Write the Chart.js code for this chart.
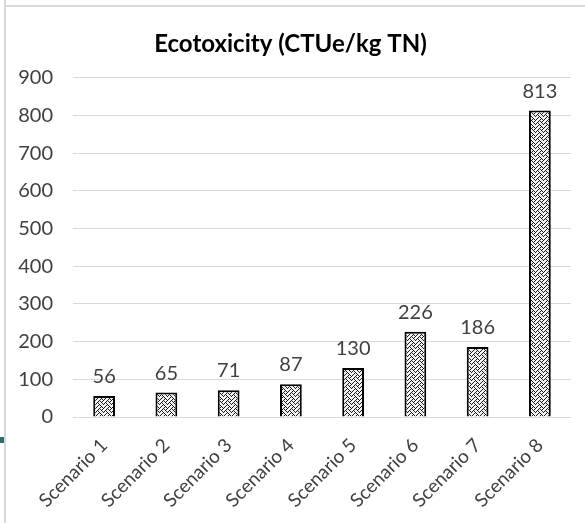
<!DOCTYPE html>
<html>
<head>
<meta charset="utf-8">
<script src="https://cdn.jsdelivr.net/npm/chart.js@4.4.1/dist/chart.umd.min.js"></script>
<style>
  html, body { margin: 0; padding: 0; background: #fff; }
  #wrap { position: relative; width: 585px; height: 523px; overflow: hidden; }
  #chart { position: absolute; left: 0; top: 0; }
  .frame-v { position: absolute; left: 4px; top: 0; width: 2px; height: 523px; background: #d9d9d9; }
  .frame-h { position: absolute; left: 4px; top: 5px; width: 581px; height: 2px; background: #d9d9d9; }
  .tab { position: absolute; left: 0; top: 437px; width: 4px; height: 6px; background: #2f6b6b; }
</style>
</head>
<body>
<div id="wrap">
  <canvas id="chart" width="585" height="523"></canvas>
  <div class="frame-v"></div>
  <div class="frame-h"></div>
  <div class="tab"></div>
</div>
<script>
const categories = ['Scenario 1', 'Scenario 2', 'Scenario 3', 'Scenario 4',
                    'Scenario 5', 'Scenario 6', 'Scenario 7', 'Scenario 8'];
const ecotoxicity = [56, 65, 71, 87, 130, 226, 186, 813];
const yTicks = [0, 100, 200, 300, 400, 500, 600, 700, 800, 900];
const chartTitle = 'Ecotoxicity (CTUe/kg TN)';

const FONT = 'Lato, Calibri, "Liberation Sans", sans-serif';

// 8x8 weave fill for the bars
function weavePattern() {
  const rows = [0x11, 0x2A, 0x44, 0xA2, 0x11, 0x28, 0x44, 0x8A];
  const c = document.createElement('canvas');
  c.width = 8; c.height = 8;
  const g = c.getContext('2d');
  g.fillStyle = '#f2f2f2';
  g.fillRect(0, 0, 8, 8);
  g.fillStyle = '#1a1a1a';
  rows.forEach((bits, y) => {
    for (let x = 0; x < 8; x++) {
      if (bits & (0x80 >> x)) g.fillRect(x, y, 1, 1);
    }
  });
  return g.createPattern(c, 'repeat');
}

// value labels above each bar
const valueLabels = {
  id: 'valueLabels',
  afterDatasetsDraw(chart) {
    const ctx = chart.ctx;
    const meta = chart.getDatasetMeta(0);
    const data = chart.data.datasets[0].data;
    ctx.save();
    ctx.font = '20px ' + FONT;
    ctx.fillStyle = '#404040';
    ctx.textAlign = 'center';
    ctx.textBaseline = 'alphabetic';
    meta.data.forEach((bar, i) => {
      ctx.fillText(String(data[i]), bar.x, bar.y - 13);
    });
    ctx.restore();
  }
};

new Chart(document.getElementById('chart'), {
  type: 'bar',
  data: {
    labels: categories,
    datasets: [{
      data: ecotoxicity,
      backgroundColor: weavePattern(),
      borderColor: '#000000',
      borderWidth: 2,
      borderSkipped: 'bottom',
      categoryPercentage: 1.0,
      barPercentage: 0.35
    }]
  },
  options: {
    responsive: false,
    animation: false,
    layout: { padding: { left: 10, right: 14, top: 0, bottom: 4 } },
    plugins: {
      legend: { display: false },
      tooltip: { enabled: false },
      title: {
        display: true,
        text: chartTitle,
        color: '#000000',
        font: { family: FONT, size: 24, weight: 'bold' },
        padding: { top: 30, bottom: 19 }
      }
    },
    scales: {
      x: {
        afterFit(scale) { scale.height = 102; },
        grid: { display: false, drawTicks: false },
        border: { display: false },
        ticks: {
          color: '#404040',
          font: { family: FONT, size: 19 },
          minRotation: 45,
          maxRotation: 45,
          padding: 17
        }
      },
      y: {
        min: 0,
        max: 900,
        afterBuildTicks(scale) { scale.ticks = yTicks.map(v => ({ value: v })); },
        afterFit(scale) { scale.width = 63; },
        grid: { color: '#d9d9d9', lineWidth: 1, drawTicks: false },
        border: { display: false },
        ticks: {
          color: '#404040',
          font: { family: FONT, size: 20 },
          padding: 20
        }
      }
    }
  },
  plugins: [valueLabels]
});
</script>
</body>
</html>
